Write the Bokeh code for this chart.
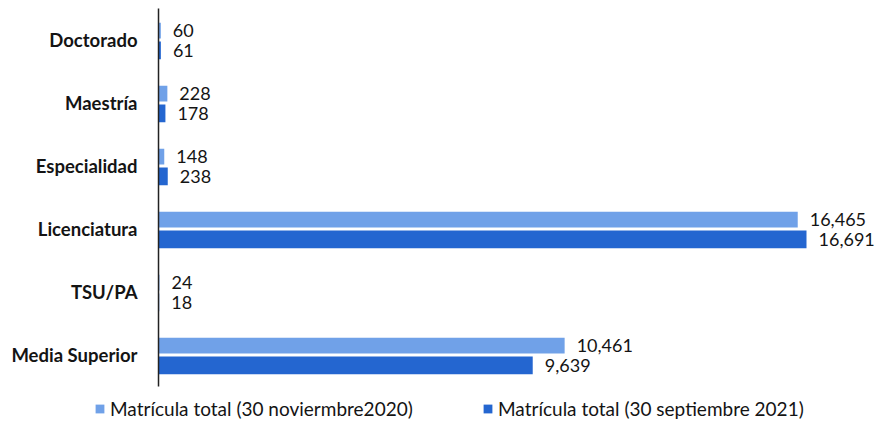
from bokeh.plotting import figure
from bokeh.models import ColumnDataSource, Range1d, Legend, LegendItem
from bokeh.transform import dodge
from bokeh.core.properties import value
from bokeh.embed import file_html
from bokeh.resources import INLINE

categories = ["Doctorado", "Maestría", "Especialidad", "Licenciatura", "TSU/PA", "Media Superior"]
serie_2020 = [60, 228, 148, 16465, 24, 10461]
serie_2021 = [61, 178, 238, 16691, 18, 9639]
legend_2020 = "Matrícula total (30 noviermbre2020)"
legend_2021 = "Matrícula total (30 septiembre 2021)"

LIGHT = "#70a1e8"
DARK = "#2466d0"
FONT = "Lato"
TXT = "#141414"

n = len(categories)
src = ColumnDataSource(dict(
    cat=categories,
    y=[n - 0.5 - i for i in range(n)],
    v20=serie_2020,
    v21=serie_2021,
    l20=[f"{v:,}" for v in serie_2020],
    l21=[f"{v:,}" for v in serie_2021],
))

p = figure(width=876, height=420, output_backend="svg", toolbar_location=None,
           x_range=Range1d(-4070, 18494), y_range=Range1d(-0.54, 6.127))
p.min_border_left = 0
p.min_border_right = 0
p.min_border_top = 0
p.min_border_bottom = 0
p.outline_line_color = None
p.grid.visible = False
p.axis.visible = False

r20 = p.hbar(y=dodge("y", 0.15), right="v20", left=0, height=0.25,
             source=src, fill_color=LIGHT, line_color=None)
r21 = p.hbar(y=dodge("y", -0.165), right="v21", left=0, height=0.28,
             source=src, fill_color=DARK, line_color=None)

# vertical category axis line spanning the category bands
p.segment(x0=0, x1=0, y0=0, y1=n, line_color="#222222", line_width=1.5)

# category labels
p.text(x=0, y="y", text="cat", source=src, x_offset=-21, text_align="right",
       text_baseline="middle", text_font=value(FONT), text_font_style="bold",
       text_font_size="18.5px", text_color=TXT)

p.text(x="v20", y=dodge("y", 0.15), text="l20", source=src,
       x_offset=12, text_baseline="middle", text_font=value(FONT),
       text_font_size="18px", text_color=TXT)
p.text(x="v21", y=dodge("y", -0.165), text="l21", source=src,
       x_offset=12, text_baseline="middle", text_font=value(FONT),
       text_font_size="18px", text_color=TXT)

def make_legend(label, rend, x):
    return Legend(items=[LegendItem(label=label, renderers=[rend])], location=(x, 0),
                  orientation="horizontal", padding=0, margin=0, spacing=0,
                  glyph_width=11, glyph_height=11, label_standoff=5, label_height=15,
                  label_text_font=FONT, label_text_font_size="19px",
                  label_text_color=TXT, border_line_color=None,
                  background_fill_alpha=0)

p.add_layout(make_legend(legend_2020, r20, 94), "center")
p.add_layout(make_legend(legend_2021, r21, 482), "center")

open("out.html", "w").write(file_html(p, INLINE))
